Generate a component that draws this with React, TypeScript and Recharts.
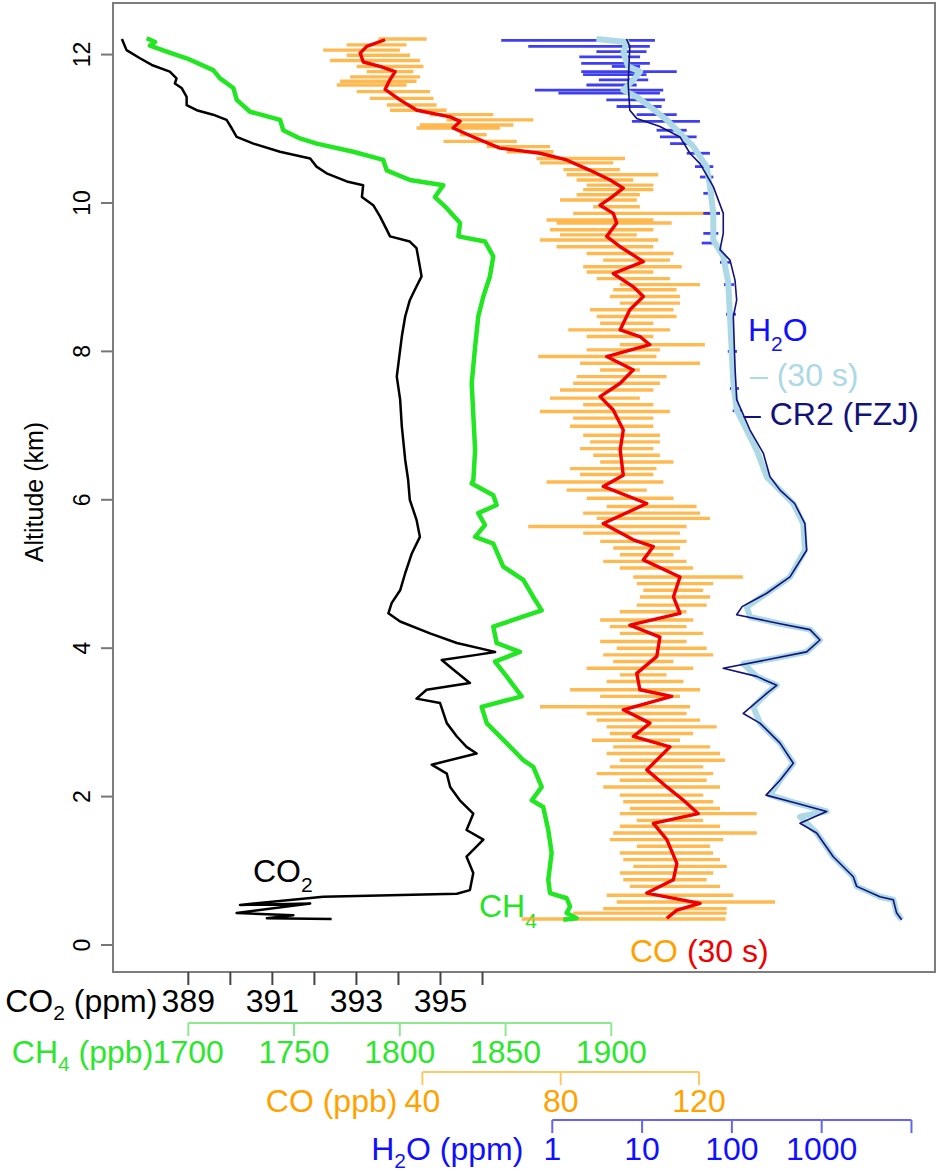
import React from "react";
import { ScatterChart, Scatter, XAxis, YAxis, ReferenceArea, ErrorBar } from "recharts";

const FONT = '"Liberation Sans", Arial, Helvetica, sans-serif';
const PLOT_W = 822; // width of the plotting area, used to space the bracket segments

// altitude axis (km)
const altDomain: [number, number] = [-0.364, 12.695];
const altTicks = [0, 2, 4, 6, 8, 10, 12];

// the four concentration scales share the horizontal space
const co2Domain: [number, number] = [387.208, 406.766];
const co2Ticks = [389, 390, 391, 392, 393, 394, 395, 396];
const co2Labels = [389, 391, 393, 395];
const ch4Domain: [number, number] = [1664.4, 2053.05];
const ch4Ticks = [1700, 1750, 1800, 1850, 1900];
const coDomain: [number, number] = [-49.49, 188.26];
const coTicks = [40, 80, 120];
const h2oDomain: [number, number] = [1.282e-5, 18281];
const h2oTicks = [1, 10, 100, 1000, 10000];
const h2oLabels = [1, 10, 100, 1000];

// [altitude km, CO2 ppm]
const co2Profile: [number, number][] = [
  [12.21, 387.42], [12.06, 387.53], [11.95, 387.85], [11.86, 388.13], [11.77, 388.56],
  [11.68, 388.72], [11.61, 388.68], [11.55, 388.84], [11.43, 388.96], [11.32, 388.96],
  [11.25, 389.2], [11.19, 389.59], [11.12, 389.91], [11.01, 390.03], [10.89, 390.15],
  [10.8, 390.55], [10.69, 391.18], [10.6, 391.9], [10.49, 392.05], [10.4, 392.29],
  [10.29, 392.77], [10.24, 393.16], [10.08, 393.13], [9.97, 393.4], [9.82, 393.56],
  [9.64, 393.72], [9.55, 393.8], [9.48, 394.27], [9.39, 394.43], [9.14, 394.51],
  [9.01, 394.55], [8.83, 394.39], [8.69, 394.27], [8.47, 394.16], [8.2, 394.08],
  [8.02, 394.04], [7.66, 393.96], [7.35, 394.04], [6.99, 394.08], [6.54, 394.16],
  [6.27, 394.23], [6.0, 394.27], [5.73, 394.43], [5.5, 394.51], [5.28, 394.32],
  [5.01, 394.16], [4.78, 394.04], [4.61, 393.84], [4.47, 393.76], [4.36, 394.04],
  [4.2, 394.75], [4.07, 395.39], [3.95, 396.3], [3.91, 395.86], [3.84, 395.03],
  [3.71, 395.31], [3.53, 395.7], [3.44, 394.67], [3.32, 394.43], [3.26, 394.99],
  [2.99, 395.15], [2.81, 395.39], [2.67, 395.62], [2.58, 395.86], [2.43, 394.79],
  [2.31, 395.15], [2.13, 395.23], [1.95, 395.46], [1.77, 395.78], [1.55, 395.62],
  [1.42, 396.02], [1.19, 395.62], [0.97, 395.78], [0.74, 395.7], [0.69, 395.39],
  [0.65, 392.21], [0.54, 390.23], [0.56, 391.9], [0.43, 390.15], [0.4, 391.5],
  [0.36, 390.87], [0.35, 392.41],
];

// [altitude km, CH4 ppb]
const ch4Profile: [number, number][] = [
  [12.22, 1680.3], [12.17, 1684.3], [12.12, 1681.9], [12.04, 1689.8], [11.95, 1699.2],
  [11.79, 1711.8], [11.68, 1715.0], [11.55, 1721.3], [11.39, 1722.9], [11.23, 1729.2],
  [11.12, 1743.4], [10.98, 1744.9], [10.87, 1752.8], [10.8, 1760.7], [10.69, 1778.0],
  [10.58, 1792.2], [10.44, 1793.8], [10.31, 1804.8], [10.24, 1820.6], [10.08, 1816.6],
  [9.93, 1822.2], [9.73, 1828.5], [9.55, 1827.7], [9.48, 1840.3], [9.28, 1844.2],
  [9.01, 1842.6], [8.74, 1839.5], [8.47, 1837.1], [8.06, 1835.6], [7.57, 1834.0],
  [7.12, 1834.8], [6.67, 1835.6], [6.27, 1834.8], [6.22, 1834.0], [6.06, 1844.2],
  [5.93, 1845.8], [5.82, 1837.1], [5.66, 1840.3], [5.5, 1835.6], [5.41, 1844.2],
  [5.1, 1848.9], [4.92, 1858.4], [4.69, 1863.1], [4.51, 1867.1], [4.29, 1844.2],
  [4.07, 1845.8], [3.95, 1856.8], [3.82, 1845.0], [3.62, 1850.5], [3.35, 1857.6],
  [3.21, 1838.7], [2.99, 1841.1], [2.72, 1850.5], [2.49, 1858.4], [2.4, 1863.1],
  [2.13, 1867.1], [1.95, 1862.4], [1.86, 1867.8], [1.55, 1870.2], [1.24, 1871.8],
  [0.88, 1870.2], [0.7, 1871.0], [0.63, 1878.9], [0.52, 1880.5], [0.43, 1878.9],
  [0.36, 1883.6], [0.34, 1877.3],
];

// [altitude km, CO ppb] 30 s average
const co30sProfile: [number, number][] = [
  [12.2, 29.2], [12.11, 23.9], [12.02, 22.0], [11.9, 22.9], [11.84, 27.7],
  [11.77, 32.1], [11.66, 30.6], [11.53, 29.2], [11.39, 33.5], [11.25, 38.4],
  [11.16, 48.0], [11.1, 50.9], [11.01, 48.9], [10.89, 54.7], [10.74, 62.4],
  [10.67, 74.0], [10.58, 81.7], [10.44, 88.5], [10.31, 94.3], [10.2, 98.1],
  [10.08, 94.8], [9.97, 91.4], [9.86, 95.2], [9.73, 96.2], [9.55, 93.3],
  [9.41, 97.2], [9.21, 103.9], [9.05, 95.2], [8.87, 101.0], [8.74, 103.9],
  [8.56, 100.0], [8.29, 97.2], [8.2, 102.9], [8.09, 105.8], [7.93, 93.3],
  [7.75, 101.0], [7.57, 97.2], [7.39, 91.4], [7.21, 95.2], [6.94, 98.1],
  [6.67, 97.2], [6.33, 98.1], [6.18, 92.3], [5.95, 104.9], [5.68, 92.3],
  [5.46, 101.0], [5.37, 106.8], [5.19, 103.9], [4.96, 114.5], [4.69, 112.6],
  [4.47, 114.5], [4.31, 100.0], [4.15, 108.7], [3.89, 107.8], [3.66, 102.0],
  [3.44, 102.9], [3.35, 112.1], [3.17, 98.1], [2.99, 105.8], [2.81, 101.0],
  [2.67, 111.6], [2.36, 104.9], [2.13, 110.7], [1.95, 115.5], [1.77, 119.8],
  [1.64, 106.8], [1.42, 110.7], [1.1, 113.6], [0.88, 112.6], [0.7, 104.9],
  [0.56, 120.3], [0.47, 113.6], [0.36, 110.7],
];

// [altitude km, low CO ppb, high CO ppb] swing of the 1 Hz CO record
const coRawSwings: [number, number, number][] = [
  [12.21, 27.3, 41.2], [12.13, 18.1, 35.4], [12.06, 11.3, 33.5], [11.99, 18.1, 36.4],
  [11.92, 13.3, 39.3], [11.84, 21.0, 40.3], [11.77, 23.9, 37.4], [11.7, 19.1, 39.3],
  [11.64, 16.2, 38.3], [11.59, 15.2, 35.4], [11.5, 21.0, 42.2], [11.41, 24.8, 43.2],
  [11.32, 29.7, 44.1], [11.25, 30.6, 47.0], [11.19, 42.2, 60.5], [11.12, 47.0, 72.1],
  [11.05, 39.3, 66.3], [11.01, 38.3, 62.4], [10.92, 50.9, 58.6], [10.83, 46.1, 67.3],
  [10.76, 58.6, 76.9], [10.69, 64.4, 77.9], [10.6, 73.0, 98.6], [10.54, 74.0, 95.2],
  [10.45, 80.8, 97.1], [10.38, 81.7, 108.2], [10.31, 84.6, 101.0], [10.24, 87.5, 106.8],
  [10.18, 86.5, 106.8], [10.11, 84.6, 102.9], [10.04, 79.8, 102.0], [9.95, 89.4, 102.9],
  [9.86, 83.6, 126.1], [9.77, 75.9, 106.8], [9.73, 78.8, 112.1], [9.64, 76.9, 106.8],
  [9.57, 79.8, 102.0], [9.5, 74.0, 108.2], [9.41, 78.8, 106.8], [9.32, 87.5, 112.6],
  [9.23, 92.3, 111.6], [9.14, 86.5, 115.0], [9.07, 87.5, 106.8], [8.98, 90.4, 111.6],
  [8.9, 97.1, 120.3], [8.83, 95.2, 113.5], [8.74, 94.2, 114.5], [8.65, 97.1, 114.5],
  [8.56, 88.5, 112.6], [8.47, 90.4, 113.5], [8.38, 91.4, 106.8], [8.29, 82.2, 111.6],
  [8.2, 87.5, 106.8], [8.09, 97.1, 121.7], [8.02, 87.5, 108.7], [7.93, 73.5, 107.7],
  [7.84, 85.6, 120.3], [7.75, 91.4, 102.9], [7.66, 84.6, 110.6], [7.57, 83.6, 108.7],
  [7.48, 79.8, 106.8], [7.37, 76.9, 102.9], [7.28, 86.5, 106.8], [7.19, 74.0, 111.6],
  [7.1, 83.6, 106.8], [6.99, 82.7, 106.8], [6.87, 86.5, 108.7], [6.78, 88.5, 108.7],
  [6.69, 85.6, 106.8], [6.6, 89.4, 108.7], [6.51, 91.4, 112.6], [6.42, 82.7, 107.7],
  [6.34, 85.6, 106.8], [6.24, 75.9, 109.7], [6.13, 81.7, 104.9], [6.02, 87.5, 112.6],
  [5.91, 93.3, 119.3], [5.82, 86.5, 120.3], [5.75, 90.4, 123.2], [5.64, 70.6, 116.4],
  [5.55, 86.5, 114.5], [5.44, 91.4, 116.4], [5.35, 95.2, 114.5], [5.26, 97.1, 112.6],
  [5.17, 92.3, 116.4], [5.08, 97.1, 118.3], [4.96, 101.0, 132.7], [4.87, 102.0, 124.1],
  [4.78, 103.9, 121.2], [4.69, 102.9, 123.2], [4.58, 102.0, 122.2], [4.49, 97.1, 116.4],
  [4.38, 91.4, 118.3], [4.29, 94.2, 116.4], [4.2, 97.1, 121.2], [4.09, 91.4, 116.4],
  [4.0, 96.2, 122.2], [3.91, 92.3, 124.1], [3.82, 95.2, 112.6], [3.73, 87.5, 118.3],
  [3.64, 97.1, 110.6], [3.55, 93.3, 115.5], [3.44, 82.7, 120.3], [3.35, 91.4, 114.5],
  [3.21, 74.0, 117.4], [3.12, 87.5, 116.4], [3.03, 90.4, 120.3], [2.94, 93.3, 125.1],
  [2.85, 94.2, 118.3], [2.76, 89.0, 114.5], [2.67, 95.2, 123.2], [2.58, 93.3, 126.1],
  [2.49, 97.1, 127.5], [2.4, 94.2, 121.2], [2.31, 90.4, 124.1], [2.22, 97.1, 122.2],
  [2.13, 92.3, 126.1], [2.02, 97.1, 121.2], [1.93, 98.1, 124.1], [1.84, 100.0, 126.1],
  [1.77, 97.1, 136.7], [1.68, 102.0, 121.2], [1.6, 97.1, 126.1], [1.51, 95.2, 136.7],
  [1.42, 94.2, 127.0], [1.33, 102.0, 123.2], [1.24, 97.1, 124.1], [1.15, 98.1, 126.1],
  [1.06, 101.0, 128.0], [0.97, 97.1, 124.1], [0.88, 98.1, 122.2], [0.79, 100.0, 126.1],
  [0.67, 93.3, 129.9], [0.58, 96.2, 142.0], [0.49, 92.3, 128.0], [0.43, 83.6, 128.0],
  [0.35, 68.7, 127.7],
];

// [altitude km, H2O ppm] 30 s average
const h2o30sProfile: [number, number][] = [
  [12.21, 3.1], [12.17, 6.7], [12.02, 6.2], [11.84, 7.0], [11.77, 9.5], [11.66, 8.0],
  [11.52, 6.2], [11.43, 8.7], [11.3, 12.2], [11.12, 18.8], [10.94, 26.4], [10.76, 37.2],
  [10.49, 52.4], [10.22, 57.0], [9.86, 62.1], [9.5, 62.1], [9.28, 80.2], [8.92, 91.2],
  [8.47, 95.3], [8.02, 99.5], [7.57, 103.8], [7.21, 113.1], [6.94, 146.2], [6.67, 188.8],
  [6.31, 244.2], [6.13, 343.8], [5.95, 483.1], [5.68, 623.8], [5.32, 651.4], [4.96, 443.6],
  [4.74, 244.2], [4.56, 146.2], [4.42, 159.2], [4.33, 343.8], [4.25, 741.3], [4.11, 957.5],
  [3.95, 680.4], [3.86, 289.1], [3.79, 134.0], [3.62, 188.8], [3.5, 315.5], [3.39, 244.2],
  [3.21, 173.1], [2.99, 205.6], [2.72, 343.8], [2.45, 483.1], [2.22, 343.8], [2.02, 265.6],
  [1.91, 526.7], [1.8, 1136.6], [1.73, 574.0], [1.51, 879.3], [1.19, 1346], [0.92, 2248],
  [0.79, 2452], [0.65, 4457], [0.61, 6266], [0.43, 6840], [0.34, 7780],
];

// [altitude km, H2O ppm] CR2 frost point hygrometer (FZJ)
const cr2Profile: [number, number][] = [
  [12.21, 6.7], [12.11, 7.3], [11.61, 7.0], [11.25, 7.3], [11.14, 8.7], [11.03, 15.8],
  [10.89, 26.4], [10.67, 34.1], [10.53, 44.1], [10.22, 62.1], [9.86, 80.2], [9.59, 80.2],
  [9.37, 73.7], [9.23, 95.3], [8.96, 108.3], [8.69, 113.1], [8.47, 103.8], [7.79, 108.3],
  [7.35, 113.1], [6.94, 159.2], [6.63, 223.6], [6.31, 265.6], [6.13, 343.8], [5.95, 500],
  [5.68, 650], [5.32, 680], [4.96, 443.6], [4.74, 244], [4.56, 130], [4.45, 113],
  [4.33, 343.8], [4.25, 741], [4.11, 957], [3.95, 680], [3.86, 289], [3.73, 80],
  [3.62, 188.8], [3.5, 315.5], [3.39, 244], [3.12, 134], [2.99, 205], [2.72, 343.8],
  [2.45, 483], [2.22, 343.8], [2.02, 240], [1.91, 526], [1.8, 1136], [1.64, 574],
  [1.51, 879], [1.19, 1346], [0.92, 2248], [0.79, 2452], [0.65, 4457], [0.61, 6266],
  [0.43, 6840], [0.34, 7780],
];

// [altitude km, low ppm, high ppm] swing of the 1 Hz H2O record
const h2oRawSwings: [number, number, number][] = [
  [12.19, 0.27, 13.9], [12.11, 0.54, 12.2], [12.04, 3.1, 11.2], [11.97, 2.0, 9.5],
  [11.88, 2.1, 12.2], [11.84, 4.6, 9.5], [11.77, 2.1, 24.3], [11.73, 2.2, 11.2],
  [11.66, 3.3, 11.7], [11.59, 2.4, 8.7], [11.52, 0.64, 17.2], [11.48, 1.17, 15.8],
  [11.39, 4.0, 18.0], [11.3, 5.2, 16.5], [11.19, 8.7, 24.3], [11.1, 7.7, 44.1],
  [10.98, 14.5, 31.4], [10.89, 15.8, 40.5], [10.8, 20.5, 37.2], [10.67, 31.4, 57.0],
  [10.49, 38.8, 62.1], [10.35, 44.1, 62.1], [10.13, 48.1, 62.1], [9.86, 48.1, 73.7],
  [9.59, 48.1, 70.6], [9.46, 46.1, 67.7], [9.2, 73.7, 95.3], [8.9, 81.7, 105.5],
  [8.5, 86, 111], [8.0, 90, 114], [7.5, 95, 120], [7.2, 102, 130],
];

const profile = (rows: [number, number][]) => rows.map(([alt, v]) => ({ alt, v }));
// each swing becomes a horizontal bar: a hidden point at the middle with an x error range
const swingBars = (rows: [number, number, number][]) =>
  rows.map(([alt, lo, hi]) => {
    const mid = (lo + hi) / 2;
    return { alt, v: mid, err: [mid - lo, hi - mid] };
  });

type ScaleSpec = {
  ticks: number[];
  labels: number[];
  domain: [number, number];
  log?: boolean;
  textColor: string;
  lineColor: string;
  bracket: boolean;
  title: [string, string, string];
  titleGap: number;
};

const co2Spec: ScaleSpec = {
  ticks: co2Ticks, labels: co2Labels, domain: co2Domain, textColor: "#000",
  lineColor: "#444", bracket: false, title: ["CO", "2", " (ppm)"], titleGap: 31,
};
const ch4Spec: ScaleSpec = {
  ticks: ch4Ticks, labels: ch4Ticks, domain: ch4Domain, textColor: "#2ee62e",
  lineColor: "#8ee88e", bracket: true, title: ["CH", "4", " (ppb)"], titleGap: 35,
};
const coSpec: ScaleSpec = {
  ticks: coTicks, labels: coTicks, domain: coDomain, textColor: "#ffa200",
  lineColor: "#ffc865", bracket: true, title: ["CO", "", " (ppb)"], titleGap: 25,
};
const h2oSpec: ScaleSpec = {
  ticks: h2oTicks, labels: h2oLabels, domain: h2oDomain, log: true, textColor: "#1010ff",
  lineColor: "#6464f4", bracket: true, title: ["H", "2", "O (ppm)"], titleGap: 29,
};

function Chem({ parts }: { parts: [string, string, string] }) {
  const [base, sub, rest] = parts;
  return (
    <>
      {base}
      {sub && (
        <tspan dy={8} fontSize={21}>
          {sub}
        </tspan>
      )}
      <tspan dy={sub ? -8 : 0}>{rest}</tspan>
    </>
  );
}

function ScaleTick(props: any) {
  const { x, y, payload, spec } = props as { x: number; y: number; payload: any; spec: ScaleSpec };
  const f = spec.log ? Math.log10 : (v: number) => v;
  const i = spec.ticks.indexOf(payload.value);
  const next = spec.ticks[i + 1];
  const span = f(spec.domain[1]) - f(spec.domain[0]);
  const dx = next === undefined ? 0 : ((f(next) - f(payload.value)) / span) * PLOT_W;
  return (
    <g>
      {spec.bracket && dx > 0 && (
        <line x1={x} y1={y} x2={x + dx} y2={y} stroke={spec.lineColor} strokeWidth={2} />
      )}
      <line x1={x} y1={y} x2={x} y2={y + 13} stroke={spec.lineColor} strokeWidth={2} />
      {spec.labels.includes(payload.value) && (
        <text x={x} y={y + 40} textAnchor="middle" fontSize={32} fill={spec.textColor} fontFamily={FONT}>
          {payload.value}
        </text>
      )}
      {i === 0 && (
        <text x={x - spec.titleGap} y={y + 40} textAnchor="end" fontSize={32} fill={spec.textColor} fontFamily={FONT}>
          <Chem parts={spec.title} />
        </text>
      )}
    </g>
  );
}

function AltTick(props: any) {
  const { x, y, payload } = props;
  return (
    <text x={x} y={y} transform={`rotate(-90 ${x} ${y})`} textAnchor="middle" fontSize={23} fill="#000" fontFamily={FONT}>
      {payload.value}
    </text>
  );
}

const NoDot = () => <g />;

const axisCommon = {
  type: "number" as const,
  dataKey: "v",
  allowDataOverflow: true,
  interval: 0 as const,
  tickLine: false,
  axisLine: false,
  tickSize: 0,
  tickMargin: 0,
};

// axis ids sort in stacking order (nearest the plot first)
const X_CO2 = "a-co2";
const X_CH4 = "b-ch4";
const X_CO = "c-co";
const X_H2O = "d-h2o";

export default function App() {
  return (
    <div style={{ position: "absolute", left: 0, top: 0, fontFamily: FONT, background: "#fff" }}>
      <ScatterChart width={939} height={1171} margin={{ top: 3, right: 4, bottom: 0, left: 0 }}>
        <YAxis
          yAxisId="alt"
          type="number"
          dataKey="alt"
          domain={altDomain}
          allowDataOverflow
          ticks={altTicks}
          interval={0}
          width={113}
          tickSize={12}
          tickMargin={11}
          axisLine={false}
          tickLine={{ stroke: "#777", strokeWidth: 2 }}
          tick={AltTick}
        />
        <XAxis xAxisId={X_CO2} {...axisCommon} domain={co2Domain} ticks={co2Ticks} height={51}
          tick={(p: any) => <ScaleTick {...p} spec={co2Spec} />} />
        <XAxis xAxisId={X_CH4} {...axisCommon} domain={ch4Domain} ticks={ch4Ticks} height={49}
          tick={(p: any) => <ScaleTick {...p} spec={ch4Spec} />} />
        <XAxis xAxisId={X_CO} {...axisCommon} domain={coDomain} ticks={coTicks} height={48}
          tick={(p: any) => <ScaleTick {...p} spec={coSpec} />} />
        <XAxis xAxisId={X_H2O} {...axisCommon} scale="log" domain={h2oDomain} ticks={h2oTicks} height={51}
          tick={(p: any) => <ScaleTick {...p} spec={h2oSpec} />} />

        <ReferenceArea xAxisId={X_CO2} yAxisId="alt" x1={co2Domain[0]} x2={co2Domain[1]}
          y1={altDomain[0]} y2={altDomain[1]} fill="none" stroke="#7d7d7d" strokeWidth={2} />

        <Scatter xAxisId={X_CO} yAxisId="alt" data={swingBars(coRawSwings)} shape={NoDot} isAnimationActive={false}>
          <ErrorBar dataKey="err" direction="x" width={0} stroke="#ffa726" strokeWidth={3.4} strokeOpacity={0.8} isAnimationActive={false} />
        </Scatter>
        <Scatter xAxisId={X_CO} yAxisId="alt" data={profile(co30sProfile)} shape={NoDot} lineType="joint"
          line={{ stroke: "#f00000", strokeWidth: 3.4, strokeLinejoin: "round" }} isAnimationActive={false} />
        <Scatter xAxisId={X_CO2} yAxisId="alt" data={profile(co2Profile)} shape={NoDot} lineType="joint"
          line={{ stroke: "#000", strokeWidth: 2.5, strokeLinejoin: "round" }} isAnimationActive={false} />
        <Scatter xAxisId={X_CH4} yAxisId="alt" data={profile(ch4Profile)} shape={NoDot} lineType="joint"
          line={{ stroke: "#22e622", strokeWidth: 4.5, strokeLinejoin: "round" }} isAnimationActive={false} />
        <Scatter xAxisId={X_H2O} yAxisId="alt" data={swingBars(h2oRawSwings)} shape={NoDot} isAnimationActive={false}>
          <ErrorBar dataKey="err" direction="x" width={0} stroke="#1c1cf0" strokeWidth={2.8} strokeOpacity={0.85} isAnimationActive={false} />
        </Scatter>
        <Scatter xAxisId={X_H2O} yAxisId="alt" data={profile(h2o30sProfile)} shape={NoDot} lineType="joint"
          line={{ stroke: "#add8e6", strokeWidth: 6, strokeLinejoin: "round" }} isAnimationActive={false} />
        <Scatter xAxisId={X_H2O} yAxisId="alt" data={profile(cr2Profile)} shape={NoDot} lineType="joint"
          line={{ stroke: "#12127a", strokeWidth: 1.6, strokeLinejoin: "round" }} isAnimationActive={false} />

        <text x={43} y={492} transform="rotate(-90 43 492)" textAnchor="middle" fontSize={25} fontFamily={FONT}>
          Altitude (km)
        </text>
        <text x={253} y={882} fontSize={32} fontFamily={FONT} fill="#000">
          CO<tspan dy={10} fontSize={21}>2</tspan>
        </text>
        <text x={479} y={917} fontSize={32} fontFamily={FONT} fill="#22e622">
          CH<tspan dy={11} fontSize={21}>4</tspan>
        </text>
        <text x={630} y={962} fontSize={32} fontFamily={FONT} fill="#ffa200">
          CO <tspan fill="#f00000">(30 s)</tspan>
        </text>
        <text x={748} y={341} fontSize={32} fontFamily={FONT} fill="#1010ff">
          H<tspan dy={10} fontSize={21}>2</tspan><tspan dy={-10}>O</tspan>
        </text>
        <text x={750} y={386} fontSize={32} fontFamily={FONT} fill="#add8e6">
          – (30 s)
        </text>
        <text x={743} y={425} fontSize={32} fontFamily={FONT} fill="#12127a">
          – CR2 (FZJ)
        </text>
      </ScatterChart>
    </div>
  );
}
